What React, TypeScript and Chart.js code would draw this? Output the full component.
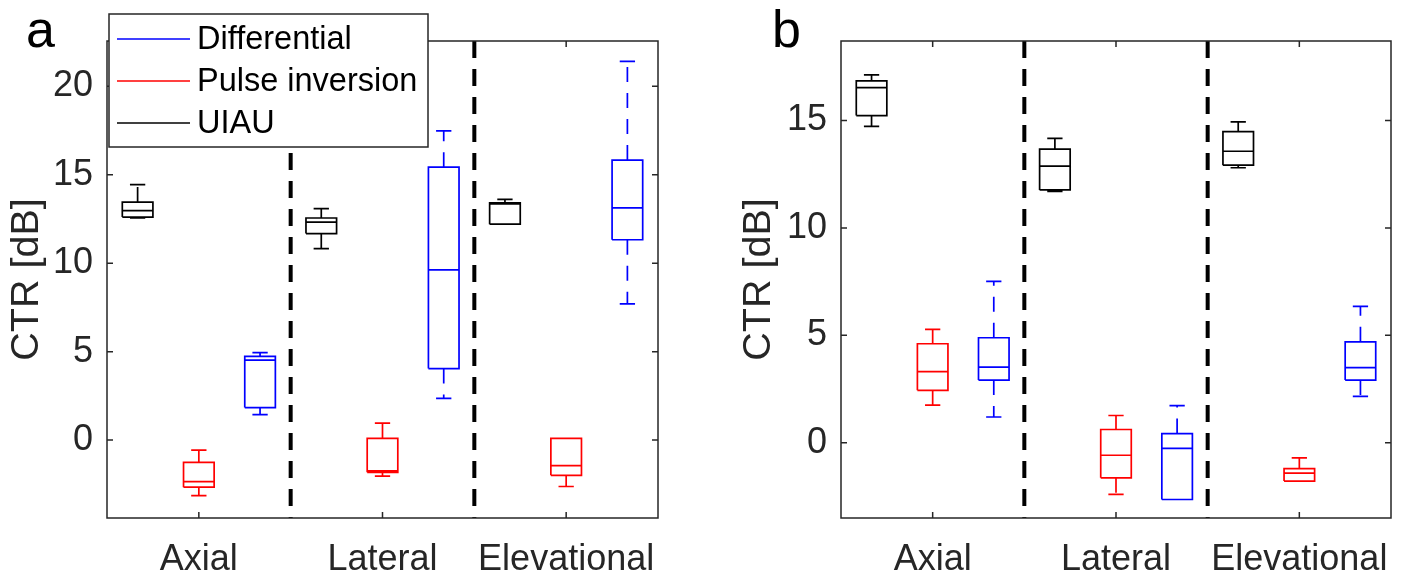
import React, { useEffect, useRef } from "react";
import { Chart, registerables } from "chart.js";

Chart.register(...registerables);

// ---------- data ----------
const categories = ["Axial", "Lateral", "Elevational"];
const seriesNames = ["UIAU", "Pulse inversion", "Differential"];
const seriesColors = ["#000000", "#ff0000", "#0000ff"];
const legendOrder = [2, 1, 0];

// each entry: [min, q1, median, q3, max] for Axial, Lateral, Elevational
const panelA_UIAU = [
  [12.55, 12.6, 12.97, 13.45, 14.43],
  [10.82, 11.67, 12.32, 12.55, 13.08],
  [12.2, 12.2, 13.35, 13.41, 13.6],
];
const panelA_Pulse = [
  [-3.14, -2.66, -2.34, -1.26, -0.56],
  [-2.03, -1.82, -1.74, 0.1, 0.96],
  [-2.62, -1.99, -1.44, 0.1, 0.1],
];
const panelA_Diff = [
  [1.44, 1.84, 4.52, 4.73, 4.94],
  [2.36, 4.04, 9.62, 15.42, 17.47],
  [7.7, 11.32, 13.12, 15.82, 21.4],
];

const panelB_UIAU = [
  [14.73, 15.23, 16.53, 16.84, 17.12],
  [11.7, 11.77, 12.88, 13.67, 14.17],
  [12.8, 12.92, 13.57, 14.48, 14.94],
];
const panelB_Pulse = [
  [1.75, 2.44, 3.31, 4.61, 5.28],
  [-2.4, -1.63, -0.58, 0.62, 1.27],
  [-1.78, -1.78, -1.41, -1.2, -0.7],
];
const panelB_Diff = [
  [1.2, 2.92, 3.52, 4.89, 7.51],
  [-2.64, -2.64, -0.26, 0.43, 1.73],
  [2.16, 2.92, 3.5, 4.7, 6.35],
];

const yTicksA = [0, 5, 10, 15, 20];
const yTicksB = [0, 5, 10, 15];
const yRangeA = [-4.4, 22.55];
const yRangeB = [-3.5, 18.7];
const xTickPositions = [2, 5, 8];
const separatorPositions = [3.5, 6.5];

// ---------- style ----------
const FONT = "'Liberation Sans', Arial, Helvetica, sans-serif";
const AXIS_COLOR = "#262626";
const BOX_W = 0.5;
const CAP_W = 0.25;
const TICK_LEN = 6;

type Stats = number[][];

function buildDatasets(series: Stats[], yRange: number[]) {
  const datasets: any[] = [];
  series.forEach((stats, s) => {
    const solid: any[] = [];
    const dashed: any[] = [];
    stats.forEach((st, g) => {
      const [mn, q1, md, q3, mx] = st;
      const x = g * 3 + s + 1;
      const hw = BOX_W / 2;
      const cw = CAP_W / 2;
      solid.push(
        { x: x - hw, y: q1 }, { x: x + hw, y: q1 }, { x: x + hw, y: q3 },
        { x: x - hw, y: q3 }, { x: x - hw, y: q1 }, { x, y: null },
        { x: x - hw, y: md }, { x: x + hw, y: md }, { x, y: null },
        { x: x - cw, y: mx }, { x: x + cw, y: mx }, { x, y: null },
        { x: x - cw, y: mn }, { x: x + cw, y: mn }, { x, y: null }
      );
      dashed.push(
        { x, y: q3 }, { x, y: mx }, { x, y: null },
        { x, y: q1 }, { x, y: mn }, { x, y: null }
      );
    });
    const common = {
      showLine: true,
      pointRadius: 0,
      pointHoverRadius: 0,
      spanGaps: false,
      borderColor: seriesColors[s],
      backgroundColor: seriesColors[s],
      borderWidth: 1.7,
      tension: 0,
      fill: false,
    };
    datasets.push({ ...common, label: seriesNames[s], data: solid });
    datasets.push({ ...common, label: seriesNames[s] + " whiskers", data: dashed, borderDash: [15, 11] });
  });
  const sep: any[] = [];
  separatorPositions.forEach((p) => {
    sep.push({ x: p, y: yRange[1] }, { x: p, y: yRange[0] }, { x: p, y: null });
  });
  datasets.push({
    label: "separator",
    data: sep,
    showLine: true,
    pointRadius: 0,
    spanGaps: false,
    borderColor: "#000000",
    borderWidth: 4,
    borderDash: [17, 11],
    fill: false,
  });
  return datasets;
}

const decorPlugin = {
  id: "decor",
  afterDatasetsDraw(chart: any) {
    const { ctx, chartArea } = chart;
    const { left, right, top, bottom } = chartArea;
    const xs = chart.scales.x;
    const ys = chart.scales.y;
    ctx.save();
    ctx.strokeStyle = AXIS_COLOR;
    ctx.lineWidth = 1.5;
    ctx.setLineDash([]);
    ctx.strokeRect(left, top, right - left, bottom - top);
    ctx.beginPath();
    ys.ticks.forEach((t: any) => {
      const py = ys.getPixelForValue(t.value);
      ctx.moveTo(left, py);
      ctx.lineTo(left + TICK_LEN, py);
      ctx.moveTo(right, py);
      ctx.lineTo(right - TICK_LEN, py);
    });
    xs.ticks.forEach((t: any) => {
      const px = xs.getPixelForValue(t.value);
      ctx.moveTo(px, top);
      ctx.lineTo(px, top + TICK_LEN);
      ctx.moveTo(px, bottom);
      ctx.lineTo(px, bottom - TICK_LEN);
    });
    ctx.stroke();
    ctx.restore();
  },
  afterDraw(chart: any, _args: any, opts: any) {
    const { ctx } = chart;
    ctx.save();
    ctx.fillStyle = "#000000";
    ctx.font = `52px ${FONT}`;
    ctx.textAlign = "left";
    ctx.textBaseline = "alphabetic";
    ctx.fillText(opts.letter, opts.letterX, 47);
    if (opts.legend) {
      const bx = 109, by = 14, bw = 319, bh = 133;
      ctx.fillStyle = "#ffffff";
      ctx.fillRect(bx, by, bw, bh);
      ctx.strokeStyle = AXIS_COLOR;
      ctx.lineWidth = 1.5;
      ctx.strokeRect(bx, by, bw, bh);
      ctx.font = `32.5px ${FONT}`;
      ctx.textBaseline = "middle";
      legendOrder.forEach((s, i) => {
        const ly = 39 + i * 42;
        ctx.strokeStyle = seriesColors[s];
        ctx.lineWidth = 1.7;
        ctx.beginPath();
        ctx.moveTo(117, ly);
        ctx.lineTo(190, ly);
        ctx.stroke();
        ctx.fillStyle = "#000000";
        ctx.fillText(seriesNames[s], 197, ly + 1);
      });
    }
    ctx.restore();
  },
};

function makeConfig(series: Stats[], yRange: number[], yTicks: number[], yWidth: number, rightPad: number, titlePad: number, letter: string, letterX: number, legend: boolean) {
  return {
    type: "scatter" as const,
    data: { datasets: buildDatasets(series, yRange) },
    plugins: [decorPlugin],
    options: {
      responsive: false,
      animation: false as const,
      events: [],
      layout: { padding: { top: 41, left: 0, right: rightPad, bottom: 0 } },
      plugins: {
        legend: { display: false },
        tooltip: { enabled: false },
        decor: { letter, letterX, legend },
      },
      scales: {
        x: {
          type: "linear" as const,
          min: 0.5,
          max: 9.5,
          grid: { display: false, drawTicks: false },
          border: { display: false },
          afterBuildTicks: (scale: any) => {
            scale.ticks = xTickPositions.map((v) => ({ value: v }));
          },
          afterFit: (scale: any) => {
            scale.height = 59;
            scale.paddingLeft = 0;
            scale.paddingRight = 0;
          },
          ticks: {
            autoSkip: false,
            maxRotation: 0,
            minRotation: 0,
            padding: 20,
            color: AXIS_COLOR,
            font: { family: FONT, size: 36 },
            callback: (v: any) => categories[xTickPositions.indexOf(Number(v))] ?? "",
          },
        },
        y: {
          type: "linear" as const,
          min: yRange[0],
          max: yRange[1],
          grid: { display: false, drawTicks: false },
          border: { display: false },
          afterBuildTicks: (scale: any) => {
            scale.ticks = yTicks.map((v) => ({ value: v }));
          },
          afterFit: (scale: any) => {
            scale.width = yWidth;
            scale.paddingTop = 0;
            scale.paddingBottom = 0;
          },
          ticks: {
            padding: 14,
            color: AXIS_COLOR,
            font: { family: FONT, size: 36 },
            callback: (v: any) => String(v),
          },
          title: {
            display: true,
            text: "CTR [dB]",
            color: AXIS_COLOR,
            font: { family: FONT, size: 39.5 },
            padding: { top: 3 + titlePad, bottom: 0 },
          },
        },
      },
    },
  };
}

function Panel(props: { config: any; left: number }) {
  const ref = useRef<HTMLCanvasElement | null>(null);
  useEffect(() => {
    if (!ref.current) return;
    const chart = new Chart(ref.current, props.config);
    return () => chart.destroy();
  }, []);
  return (
    <canvas
      ref={ref}
      width={701}
      height={577}
      style={{ position: "absolute", left: props.left, top: 0, width: 701, height: 577, display: "block" }}
    />
  );
}

export default function App() {
  const configA = makeConfig([panelA_UIAU, panelA_Pulse, panelA_Diff], yRangeA, yTicksA, 107, 43, 0, "a", 26, true);
  const configB = makeConfig([panelB_UIAU, panelB_Pulse, panelB_Diff], yRangeB, yTicksB, 140, 11, 31, "b", 71, false);
  return (
    <div style={{ position: "absolute", left: 0, top: 0, width: 1402, height: 577, background: "#ffffff", overflow: "hidden" }}>
      <Panel config={configA} left={0} />
      <Panel config={configB} left={701} />
    </div>
  );
}
